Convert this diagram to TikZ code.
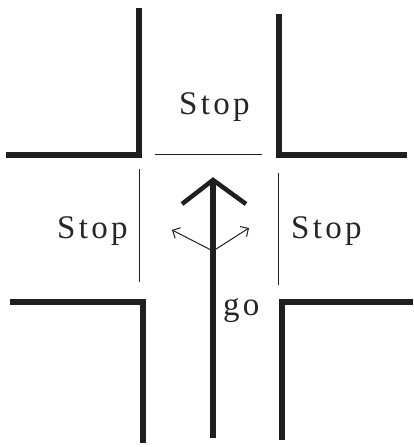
\documentclass[tikz,border=0pt]{standalone}
\usepackage{fontspec}
\setmainfont{Liberation Serif}[LetterSpace=10]
\usetikzlibrary{arrows.meta}
\begin{document}
\begin{tikzpicture}[x=1pt,y=-1pt,
  wall/.style={line width=6.5pt,line join=miter,color=black!88},
  thinline/.style={line width=0.9pt,color=black!88},
  shaft/.style={line width=5.5pt,color=black!88},
  head/.style={line width=4.5pt,line join=miter,color=black!88},
  turn/.style={line width=1pt,color=black!88,-{Straight Barb[length=6pt,width=12pt]}},
  label/.style={font=\fontsize{33}{34}\selectfont,inner sep=0pt,anchor=base west,text=black!85}]
\useasboundingbox (0,0) rectangle (413,447);
% walls
\draw[wall] (6,155) -- (139,155) -- (139,8);
\draw[wall] (279,14) -- (279,155) -- (407,155);
\draw[wall] (10,302) -- (143,302) -- (143,443);
\draw[wall] (282,440) -- (282,302) -- (413,302);
% stop lines
\draw[thinline] (155,154) -- (262,154);
\draw[thinline] (139,169) -- (139,282);
\draw[thinline] (278,173) -- (278,285);
% main arrow
\coordinate (base) at (213,438);
\coordinate (tip) at (213,180);
\coordinate (hl) at (182,204);
\coordinate (hr) at (246,204);
\coordinate (o) at (213,251);
\coordinate (tl) at (172,230);
\coordinate (tr) at (249,228);
\draw[shaft] (base) -- (tip);
\draw[head] (hl) -- (tip) -- (hr);
\draw[turn] (o) -- (tl);
\draw[turn] (o) -- (tr);
% labels
\node[label] (stopn) at (179,114) {Stop};
\node[label] (stopw) at (57,238) {Stop};
\node[label] (stope) at (291,238) {Stop};
\node[label] (go) at (223,315) {go};
\end{tikzpicture}
\end{document}
